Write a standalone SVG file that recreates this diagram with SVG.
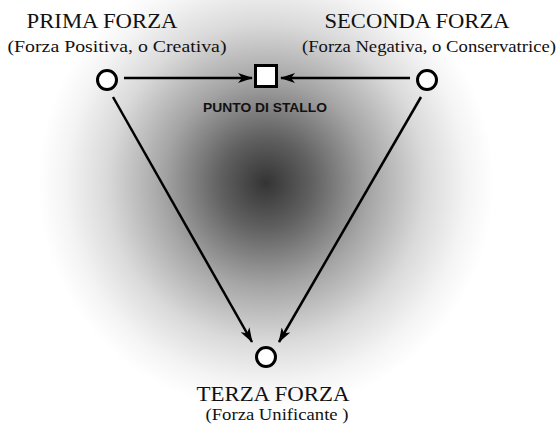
<svg xmlns="http://www.w3.org/2000/svg" width="560" height="426" viewBox="0 0 560 426">
<defs>
<radialGradient id="bg" gradientUnits="userSpaceOnUse" cx="266" cy="183" r="228">
<stop offset="0" stop-color="#343434"/>
<stop offset="0.2" stop-color="#606060"/>
<stop offset="0.45" stop-color="#a4a4a4"/>
<stop offset="0.7" stop-color="#dadada"/>
<stop offset="0.88" stop-color="#f4f4f4"/>
<stop offset="1" stop-color="#fff"/>
</radialGradient>
<marker id="ah" viewBox="0 0 15 10" refX="14" refY="5" markerWidth="15" markerHeight="10" markerUnits="userSpaceOnUse" orient="auto">
<path d="M0,0 L15,5 L0,10 L4,5 Z" fill="#000"/>
</marker>
<style>
.t{font-family:"Liberation Serif",serif;font-size:20px;fill:#111;text-anchor:middle}
.s{font-family:"Liberation Serif",serif;font-size:17px;fill:#111;text-anchor:middle}
.p{font-family:"Liberation Sans",sans-serif;font-size:13.5px;font-weight:bold;fill:#111;text-anchor:middle}
.n{fill:#fff;stroke:#000;stroke-width:3}
.c{stroke:#000;stroke-width:2.5;fill:none;marker-end:url(#ah)}
</style>
</defs>
<rect width="560" height="426" fill="#fff"/>
<rect width="560" height="426" fill="url(#bg)"/>
<g id="connectors">
<line class="c" x1="124" y1="78" x2="252" y2="78"/>
<line class="c" x1="410" y1="78" x2="281" y2="78"/>
<line class="c" x1="113" y1="97" x2="252" y2="342"/>
<line class="c" x1="421" y1="97" x2="279" y2="342"/>
</g>
<g id="prima">
<circle class="n" cx="107" cy="80" r="9.5"/>
<text class="t" x="102" y="28" textLength="151" lengthAdjust="spacingAndGlyphs">PRIMA FORZA</text>
<text class="s" x="117" y="52" textLength="219" lengthAdjust="spacingAndGlyphs">(Forza Positiva, o Creativa)</text>
</g>
<g id="seconda">
<circle class="n" cx="427" cy="80" r="9.5"/>
<text class="t" x="417" y="28" textLength="185" lengthAdjust="spacingAndGlyphs">SECONDA FORZA</text>
<text class="s" x="429" y="52" textLength="254" lengthAdjust="spacingAndGlyphs">(Forza Negativa, o Conservatrice)</text>
</g>
<g id="stallo">
<rect class="n" x="255.5" y="65.5" width="21" height="21"/>
<text class="p" x="265" y="112" textLength="124" lengthAdjust="spacingAndGlyphs">PUNTO DI STALLO</text>
</g>
<g id="terza">
<circle class="n" cx="266" cy="357" r="9.5"/>
<text class="t" x="273" y="401" textLength="153" lengthAdjust="spacingAndGlyphs">TERZA FORZA</text>
<text class="s" x="277" y="420" textLength="143" lengthAdjust="spacingAndGlyphs">(Forza Unificante  )</text>
</g>
</svg>
